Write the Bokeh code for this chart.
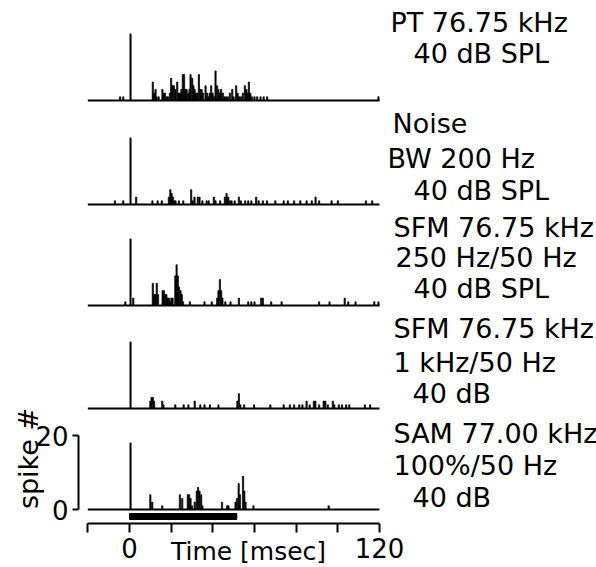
import math
from bokeh.plotting import figure
from bokeh.models import Range1d, FixedTicker, Label, ColumnDataSource
from bokeh.embed import file_html
from bokeh.resources import INLINE
from bokeh.core.properties import value

# ---------------- data ----------------
# PSTH bins: time (ms) and spike count
pt_t = [-4.5, -3.0, 0.5, 11.2, 11.7, 12.5, 13.0, 14.0, 15.8, 16.4, 17.0, 17.8, 18.5,
        19.4, 20.0, 20.6, 21.3, 22.0, 22.9, 23.6, 24.2, 24.9, 25.6, 26.2, 26.8, 27.4,
        28.2, 28.8, 29.3, 30.1, 30.7, 31.3, 31.9, 32.5, 33.3, 34.0, 34.6, 35.3, 36.5,
        37.2, 37.9, 38.5, 39.2, 39.9, 40.6, 41.3, 42.0, 42.7, 43.4, 44.0, 44.8, 45.6,
        46.4, 47.2, 48.2, 49.3, 50.0, 51.2, 51.9, 52.7, 53.5, 54.4, 55.4, 56.1, 56.7,
        57.3, 58.0, 58.8, 60.0, 61.3, 62.9, 64.4, 66.1, 119.5]
pt_n = [1, 1, 18, 5, 2, 3, 1, 1, 3, 2, 2, 1, 1,
        2, 6, 4, 4, 3, 5, 2, 2, 3, 7, 7, 3, 3,
        2, 3, 7, 6, 4, 3, 2, 2, 7, 3, 3, 2, 4,
        2, 1, 2, 4, 2, 1, 8, 4, 3, 2, 3, 2, 1,
        1, 1, 2, 3, 1, 4, 2, 1, 1, 2, 4, 3, 2,
        5, 2, 1, 1, 1, 1, 1, 1, 1]

noise_t = [-7.0, -3.0, 0.5, 3.2, 11.0, 13.5, 15.5, 18.9, 19.6, 20.2, 20.8, 21.4, 22.1,
           23.7, 25.8, 29.6, 30.3, 31.2, 32.8, 33.6, 35.0, 37.0, 38.0, 40.5, 41.3,
           43.5, 45.8, 46.6, 47.4, 48.2, 49.0, 50.5, 52.5, 53.5, 55.5, 57.0, 58.5,
           60.8, 62.0, 64.0, 66.0, 70.0, 74.0, 76.0, 79.0, 82.0, 85.0, 87.5, 89.3,
           91.0, 97.0, 100.0, 113.5, 116.5]
noise_n = [1, 1, 18, 2, 1, 1, 1, 2, 4, 3, 2, 1, 1,
           1, 1, 4, 1, 2, 2, 2, 1, 1, 1, 2, 1,
           1, 2, 3, 2, 1, 1, 1, 2, 1, 1, 1, 1,
           2, 1, 1, 1, 1, 1, 1, 1, 1, 1, 1, 2,
           1, 1, 1, 1, 1]

sfm250_t = [-2.0, 0.5, 1.8, 11.2, 11.8, 12.4, 13.1, 13.7, 15.9, 16.5, 17.1, 17.7,
            18.3, 18.9, 19.5, 20.1, 20.7, 22.0, 22.6, 23.2, 23.8, 24.5, 25.1, 25.7,
            29.0, 36.0, 39.5, 42.1, 42.7, 43.4, 44.0, 44.6, 46.0, 48.5, 52.5, 57.0,
            58.5, 60.0, 63.2, 64.0, 68.0, 73.0, 91.0, 96.0, 103.3, 105.0, 108.5,
            117.5, 119.5]
sfm250_n = [1, 18, 2, 6, 3, 3, 6, 3, 4, 4, 3, 3,
            2, 2, 1, 2, 2, 8, 11, 8, 5, 4, 3, 1,
            1, 1, 1, 2, 4, 7, 4, 2, 1, 1, 2, 1,
            1, 1, 2, 2, 1, 1, 1, 1, 2, 1, 1,
            1, 1]

sfm1k_t = [0.5, 10.0, 10.6, 11.2, 11.8, 15.7, 16.3, 22.0, 26.0, 28.3, 31.3, 34.0,
           36.0, 38.6, 42.7, 51.8, 52.5, 53.2, 55.0, 59.8, 67.6, 74.0, 77.0, 79.0,
           81.5, 83.0, 85.0, 86.5, 88.5, 89.2, 91.0, 93.2, 94.0, 95.2, 97.6, 98.3,
           100.5, 102.0, 104.0, 105.5, 113.0, 115.5]
sfm1k_n = [18, 2, 3, 3, 2, 2, 1, 1, 1, 1, 2, 1,
           1, 1, 1, 2, 4, 1, 1, 1, 1, 1, 1, 1,
           1, 1, 2, 1, 2, 2, 1, 2, 2, 1, 2, 1,
           1, 1, 1, 1, 1, 1]

sam_t = [0.5, 10.0, 10.9, 15.7, 24.2, 25.3, 28.0, 28.6, 29.3, 30.0, 31.3, 32.3,
         32.9, 33.6, 34.4, 35.0, 44.4, 46.9, 47.5, 50.9, 51.6, 52.4, 53.0, 54.5,
         55.1, 55.7, 59.5, 95.6]
sam_n = [18, 4, 2, 1, 4, 3, 4, 4, 3, 1, 2, 5,
         6, 5, 4, 1, 2, 1, 1, 2, 3, 7, 4, 9,
         5, 2, 1, 1]

stim_start, stim_end = 0.0, 51.5          # stimulus bar (ms)
t_min, t_max = -20, 120                   # time axis extent (ms)
x_ticks = [-20, 0, 20, 40, 60, 80, 100, 120]
x_tick_text = {0: "0", 120: "120"}
y_ticks = [0, 20]
x_title = "Time [msec]"
y_title = "spike #"

panel_labels = [
    ["PT 76.75 kHz", "40 dB SPL"],
    ["Noise", "BW 200 Hz", "40 dB SPL"],
    ["SFM 76.75 kHz", "250 Hz/50 Hz", "40 dB SPL"],
    ["SFM 76.75 kHz", "1 kHz/50 Hz", "40 dB"],
    ["SAM 77.00 kHz", "100%/50 Hz", "40 dB"],
]

# ---------------- layout (pixels) ----------------
W, H = 596, 567
X0_PX = 129.0                 # pixel of t = 0
PX_PER_MS = 250.0 / 120.0
BASE_PX = 509.0               # pixel of bottom-panel baseline
PX_PER_SPIKE = 3.7
XAXIS_PX = 523.0              # pixel row of the time axis
YAXIS_PX = 78.0               # pixel column of the spike axis
TEXT_SIZE = 27
TITLE_SIZE = 25
BASELINE_FIX = 0.37           # renderer puts text ~0.37 em below the asked row

x_start = -X0_PX / PX_PER_MS
x_end = x_start + W / PX_PER_MS
y_start = -(H - BASE_PX) / PX_PER_SPIKE
y_end = y_start + H / PX_PER_SPIKE


def tx(px):
    return x_start + px / PX_PER_MS


def ty(py):
    return y_start + (H - py) / PX_PER_SPIKE


panel_base_px = [100, 204, 305, 408, 509]
offsets = [ty(b) for b in panel_base_px]

# text line positions: (left px, baseline px) per line
label_pos = [
    [(390, 32), (413, 63)],
    [(392, 133), (387, 168), (413, 200)],
    [(393, 237), (395, 267), (413, 298)],
    [(393, 338), (393, 372), (412, 403)],
    [(393, 443), (393, 475), (412, 507)],
]

FONT = "DejaVu Sans"

p = figure(width=W, height=H, x_range=Range1d(x_start, x_end),
           y_range=Range1d(y_start, y_end), output_backend="svg",
           toolbar_location=None, min_border_left=0, min_border_right=0,
           min_border_top=0, min_border_bottom=0)
p.outline_line_color = None
p.xgrid.visible = False
p.ygrid.visible = False
p.background_fill_color = "white"
p.border_fill_color = "white"

series = [(pt_t, pt_n), (noise_t, noise_n), (sfm250_t, sfm250_n),
          (sfm1k_t, sfm1k_n), (sam_t, sam_n)]

# baselines
p.segment(x0=[t_min] * 5, x1=[t_max] * 5, y0=offsets, y1=offsets,
          line_color="black", line_width=2)

for (t, n), off in zip(series, offsets):
    src = ColumnDataSource(dict(x=t, top=[off + v for v in n], bottom=[off] * len(t)))
    p.vbar(x="x", top="top", bottom="bottom", width=0.6, source=src,
           fill_color="black", line_color="black", line_width=0.7)

# stimulus bar
p.quad(left=[stim_start], right=[stim_end], bottom=[ty(519)], top=[ty(513)],
       fill_color="black", line_color="black")

# stimulus texts
tx_list, ty_list, txt = [], [], []
for lines, poss in zip(panel_labels, label_pos):
    for s, (lx, ly) in zip(lines, poss):
        tx_list.append(tx(lx))
        ty_list.append(ty(ly - BASELINE_FIX * TEXT_SIZE))
        txt.append(s)
p.text(x=tx_list, y=ty_list, text=txt, text_font=value(FONT),
       text_font_size=value(f"{TEXT_SIZE}px"), text_align="left",
       text_baseline="alphabetic", text_color="black")

# time-axis title, in the tick-label row
p.text(x=[tx(248)], y=[ty(560 - BASELINE_FIX * TITLE_SIZE)], text=[x_title],
       text_font=value(FONT), text_font_size=value(f"{TITLE_SIZE}px"),
       text_align="center", text_baseline="alphabetic", text_color="black")

# x axis (drawn at a fixed row inside the canvas)
xa = p.xaxis[0]
xa.fixed_location = ty(XAXIS_PX)
xa.ticker = FixedTicker(ticks=x_ticks)
xa.major_label_overrides = {t: x_tick_text.get(t, "") for t in x_ticks}
xa.bounds = (t_min, t_max)
xa.minor_tick_line_color = None
xa.major_tick_in = 0
xa.major_tick_out = 9
xa.axis_line_width = 2
xa.major_tick_line_width = 2
xa.major_label_standoff = 5
xa.major_label_text_font = FONT
xa.major_label_text_font_size = "26px"
xa.major_label_text_color = "black"

# y axis
ya = p.yaxis[0]
ya.fixed_location = tx(YAXIS_PX)
ya.ticker = FixedTicker(ticks=y_ticks)
ya.bounds = (y_ticks[0], y_ticks[-1])
ya.minor_tick_line_color = None
ya.major_tick_in = 0
ya.major_tick_out = 6
ya.axis_line_width = 2
ya.major_tick_line_width = 2
ya.major_label_standoff = 4
ya.major_label_text_font = FONT
ya.major_label_text_font_size = "26px"
ya.major_label_text_color = "black"

# spike-count axis title
p.add_layout(Label(x=tx(28), y=ty(458), text=y_title, angle=math.pi / 2,
                   text_font=FONT, text_font_size="27px", text_align="center",
                   text_baseline="middle", text_color="black"))

open("out.html", "w").write(file_html(p, INLINE))
